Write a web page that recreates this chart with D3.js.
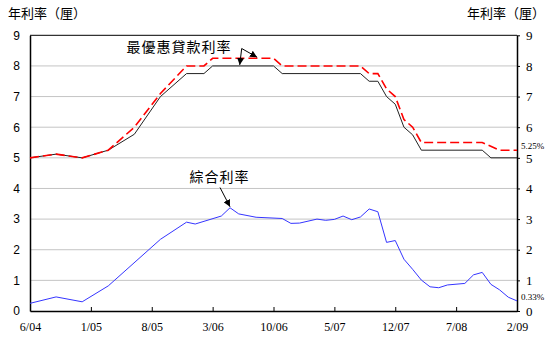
<!DOCTYPE html>
<html>
<head>
<meta charset="utf-8">
<script src="https://cdn.jsdelivr.net/npm/d3@7"></script>
<style>
  body { margin: 0; background: #fff; }
  svg { display: block; }
</style>
</head>
<body>
<svg id="chart" width="550" height="340"></svg>
<script>
// Month labels along the bottom axis (every seven months)
const tickLabels = ["6/04", "1/05", "8/05", "3/06", "10/06", "5/07", "12/07", "7/08", "2/09"];
const yTicks = [0, 1, 2, 3, 4, 5, 6, 7, 8, 9];

// Best lending rate, first bank (black solid line)
const blackDates = ["2004-06","2004-09","2004-12","2005-03","2005-06","2005-09","2005-12","2006-02","2006-03",
                    "2006-10","2006-11","2007-08","2007-09","2007-10","2007-11","2007-12","2008-01","2008-02",
                    "2008-03","2008-10","2008-11","2009-02"];
const blackRates = [5.00, 5.12, 5.00, 5.25, 5.77, 7.00, 7.75, 7.75, 8.00,
                    8.00, 7.75, 7.75, 7.50, 7.50, 7.00, 6.75, 6.00, 5.75,
                    5.25, 5.25, 5.00, 5.00];

// Best lending rate, second bank (red dashed line)
const redDates = ["2004-06","2004-09","2004-12","2005-03","2005-06","2005-09","2005-12","2006-02","2006-03",
                  "2006-10","2006-11","2007-08","2007-09","2007-10","2007-11","2007-12","2008-01","2008-02",
                  "2008-03","2008-10","2008-12","2009-02"];
const redRates = [5.00, 5.12, 5.00, 5.25, 6.00, 7.10, 8.00, 8.00, 8.25,
                  8.25, 8.00, 8.00, 7.75, 7.75, 7.25, 7.00, 6.25, 6.00,
                  5.50, 5.50, 5.25, 5.25];

// Composite interest rate (blue line)
const blueDates = ["2004-06","2004-09","2004-12","2005-03","2005-09","2005-12","2006-01","2006-04","2006-05",
                   "2006-06","2006-08","2006-11","2006-12","2007-01","2007-03","2007-04","2007-05","2007-06",
                   "2007-07","2007-08","2007-09","2007-10","2007-11","2007-12","2008-01","2008-02","2008-03",
                   "2008-04","2008-05","2008-06","2008-08","2008-09","2008-10","2008-11","2008-12","2009-01","2009-02"];
const blueRates = [0.25, 0.46, 0.30, 0.82, 2.34, 2.90, 2.84, 3.10, 3.37,
                   3.17, 3.06, 3.02, 2.86, 2.87, 3.00, 2.96, 2.99, 3.10,
                   2.98, 3.07, 3.33, 3.24, 2.24, 2.30, 1.69, 1.36, 1.01,
                   0.79, 0.76, 0.85, 0.90, 1.18, 1.26, 0.87, 0.69, 0.45, 0.33];

const endLabels = { red: "5.25%", blue: "0.33%" };

// Month offset from June 2004
function monthIndex(s) {
  const [yr, mo] = s.split("-").map(Number);
  return (yr - 2004) * 12 + (mo - 6);
}
function labelIndex(l) {
  const [mo, yy] = l.split("/").map(Number);
  return (2000 + yy - 2004) * 12 + (mo - 6);
}

const svg = d3.select("#chart");
const plotLeft = 30, plotRight = 517, plotTop = 35.3, plotBottom = 311;

const x = d3.scaleLinear()
  .domain([labelIndex(tickLabels[0]), labelIndex(tickLabels[tickLabels.length - 1])])
  .range([plotLeft, plotRight]);
const y = d3.scaleLinear().domain([0, 9]).range([plotBottom, plotTop]);

// Horizontal grid
svg.append("g")
  .selectAll("line")
  .data(yTicks.filter(v => v > 0 && v < 9))
  .join("line")
  .attr("x1", plotLeft).attr("x2", plotRight)
  .attr("y1", d => y(d)).attr("y2", d => y(d))
  .attr("stroke", "#c4c4c4")
  .attr("stroke-width", 1);

// Frame top line
svg.append("line")
  .attr("x1", plotLeft).attr("x2", plotRight)
  .attr("y1", plotTop).attr("y2", plotTop)
  .attr("stroke", "#000");

// Axes
const leftAxis = svg.append("g")
  .attr("transform", `translate(${plotLeft},0)`)
  .call(d3.axisLeft(y).tickValues(yTicks).tickFormat(d3.format("d")).tickSize(0).tickPadding(10));
leftAxis.selectAll("text").attr("font-family", "Liberation Sans, Arial, sans-serif").attr("font-size", 12).attr("fill", "#000");
leftAxis.select(".domain").attr("stroke", "#000").attr("stroke-width", 1.5);

const rightAxis = svg.append("g")
  .attr("transform", `translate(${plotRight},0)`)
  .call(d3.axisRight(y).tickValues(yTicks).tickFormat(d3.format("d")).tickSizeInner(3).tickSizeOuter(0).tickPadding(6));
rightAxis.selectAll("text").attr("font-family", "Liberation Serif, Times New Roman, serif").attr("font-size", 13).attr("fill", "#000");
rightAxis.select(".domain").attr("stroke", "#000").attr("stroke-width", 1.5);
rightAxis.selectAll(".tick line").attr("stroke", "#000");

const bottomAxis = svg.append("g")
  .attr("transform", `translate(0,${plotBottom})`)
  .call(d3.axisBottom(x)
    .tickValues(tickLabels.map(labelIndex))
    .tickFormat((d, i) => tickLabels[i])
    .tickSizeInner(-4).tickSizeOuter(0).tickPadding(11));
bottomAxis.selectAll("text").attr("font-family", "Liberation Serif, Times New Roman, serif").attr("font-size", 12).attr("fill", "#000");
bottomAxis.select(".domain").attr("stroke", "#000").attr("stroke-width", 1.5);
bottomAxis.selectAll(".tick line").attr("stroke", "#000");

// Series lines
const line = d3.line().x(d => x(monthIndex(d[0]))).y(d => y(d[1]));
const zip = (a, b) => a.map((d, i) => [d, b[i]]);

svg.append("path")
  .datum(zip(blackDates, blackRates))
  .attr("d", line)
  .attr("fill", "none")
  .attr("stroke", "#222")
  .attr("stroke-width", 1);

svg.append("path")
  .datum(zip(redDates, redRates))
  .attr("d", line)
  .attr("fill", "none")
  .attr("stroke", "#ff0000")
  .attr("stroke-width", 1.6)
  .attr("stroke-dasharray", "9,4");

svg.append("path")
  .datum(zip(blueDates, blueRates))
  .attr("d", line)
  .attr("fill", "none")
  .attr("stroke", "#3535ff")
  .attr("stroke-width", 1);

// Axis titles
const cjk = "Noto Sans CJK TC, Noto Sans CJK SC, sans-serif";
svg.append("text").attr("x", 8).attr("y", 18).text("年利率（厘）")
  .attr("font-family", cjk).attr("font-size", 13).attr("fill", "#000");
svg.append("text").attr("x", 545).attr("y", 18).attr("text-anchor", "end").text("年利率（厘）")
  .attr("font-family", cjk).attr("font-size", 13).attr("fill", "#000");

// End-of-period value labels
svg.append("text").attr("x", plotRight + 4).attr("y", y(redRates[redRates.length - 1]) - 1)
  .text(endLabels.red).attr("font-family", "Liberation Serif, serif").attr("font-size", 9).attr("fill", "#000");
svg.append("text").attr("x", plotRight + 4).attr("y", y(blueRates[blueRates.length - 1]) - 0.5)
  .text(endLabels.blue).attr("font-family", "Liberation Serif, serif").attr("font-size", 9).attr("fill", "#000");

// Arrowhead marker
svg.append("defs").append("marker")
  .attr("id", "arrow")
  .attr("viewBox", "0 0 10 10")
  .attr("refX", 10).attr("refY", 5)
  .attr("markerWidth", 7).attr("markerHeight", 7)
  .attr("markerUnits", "userSpaceOnUse")
  .attr("orient", "auto")
  .append("path").attr("d", "M0,0 L10,5 L0,10 Z").attr("fill", "#000");

// Annotation: best lending rate
svg.append("text").attr("x", 179).attr("y", 52).attr("text-anchor", "middle")
  .text("最優惠貸款利率").attr("font-family", cjk).attr("font-size", 14)
  .attr("letter-spacing", 1).attr("fill", "#000");
svg.append("line")
  .attr("x1", 241.7).attr("y1", 48.5)
  .attr("x2", x(monthIndex("2006-06")) + 1).attr("y2", y(8) - 1)
  .attr("stroke", "#000").attr("stroke-width", 1).attr("marker-end", "url(#arrow)");
svg.append("line")
  .attr("x1", 241.7).attr("y1", 48.5)
  .attr("x2", x(monthIndex("2006-08")) + 1).attr("y2", y(8.25) - 1)
  .attr("stroke", "#000").attr("stroke-width", 1).attr("marker-end", "url(#arrow)");

// Annotation: composite rate
svg.append("text").attr("x", 219.5).attr("y", 182).attr("text-anchor", "middle")
  .text("綜合利率").attr("font-family", cjk).attr("font-size", 14)
  .attr("letter-spacing", 1).attr("fill", "#000");
const peakIdx = blueRates.indexOf(d3.max(blueRates));
svg.append("line")
  .attr("x1", 220).attr("y1", 187.5)
  .attr("x2", x(monthIndex(blueDates[peakIdx]))).attr("y2", y(blueRates[peakIdx]) - 1)
  .attr("stroke", "#000").attr("stroke-width", 1).attr("marker-end", "url(#arrow)");
</script>
</body>
</html>
